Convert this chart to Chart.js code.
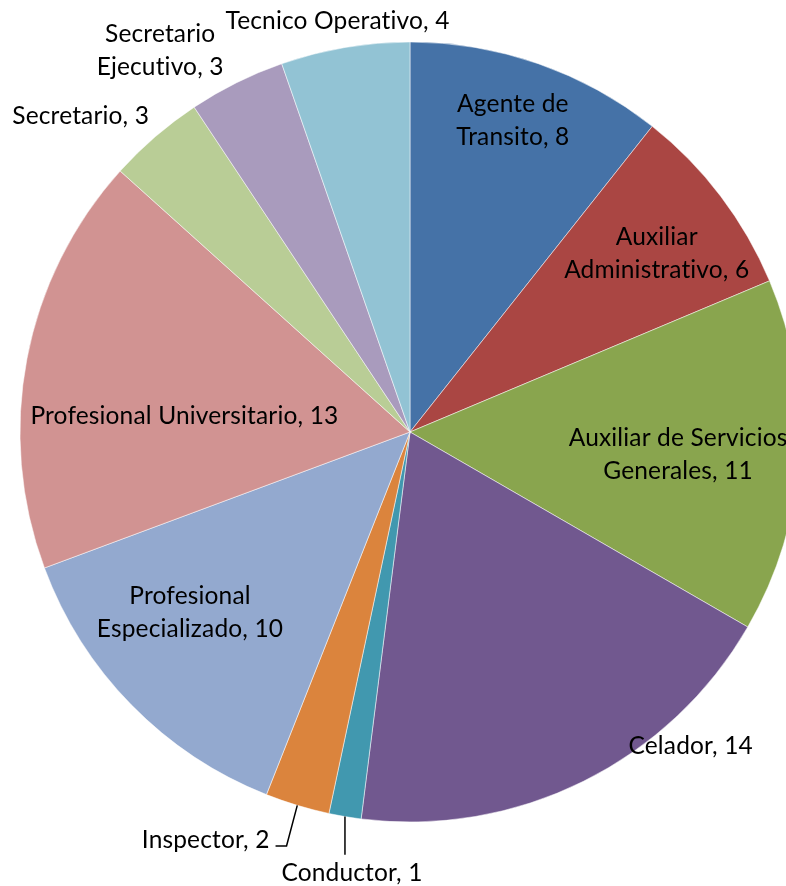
<!DOCTYPE html>
<html lang="es">
<head>
  <meta charset="UTF-8">
  <title>Cargos</title>
  <style>
    html, body { margin:0; padding:0; background:#fff; overflow:hidden; }
    #wrap { width:820px; height:886px; }
  </style>
</head>
<body>
<div id="wrap"><canvas id="pie" width="820" height="886"></canvas></div>
<script src="https://cdn.jsdelivr.net/npm/chart.js"></script>
<script>
// datos (\n = salto de linea de la etiqueta)
const categories = ['Agente de\nTransito', 'Auxiliar\nAdministrativo', 'Auxiliar de Servicios\nGenerales', 'Celador',
  'Conductor', 'Inspector', 'Profesional\nEspecializado', 'Profesional Universitario', 'Secretario',
  'Secretario\nEjecutivo', 'Tecnico Operativo'];
const values = [8, 6, 11, 14, 1, 2, 10, 13, 3, 3, 4];
const colors = ['#4572A7', '#AA4643', '#89A54E', '#71588F', '#4198AF', '#DB843D',
  '#93A9CF', '#D19392', '#B9CD96', '#A99BBD', '#92C3D4'];

// ubicacion de etiquetas: giro (grados) respecto al centro del sector y radio relativo
const labelShift = [-0.9, 1.4, 1.3, -15.4, -2.1, 9.8, 5.0, -6.7, -5.4, -6.8, -0.4];
const labelRadius = [0.84, 0.78, 0.69, 1.08, 1.14, 1.17, 0.73, 0.58, 1.17, 1.17, 1.07];
const leaders = { 4: 'down', 5: 'elbow' };

const FONT = '24.5px Lato, "Liberation Sans", sans-serif';
const LINE_H = 33;

const pieLabels = {
  id: 'pieLabels',
  afterDatasetsDraw(chart) {
    const ctx = chart.ctx;
    const arcs = chart.getDatasetMeta(0).data;
    ctx.save();
    ctx.font = FONT;
    if ('letterSpacing' in ctx) ctx.letterSpacing = '0.15px'; // sin ligaduras "ti"
    ctx.fillStyle = '#000';
    ctx.textAlign = 'center';
    ctx.textBaseline = 'middle';
    arcs.forEach((arc, i) => {
      const mid = (arc.startAngle + arc.endAngle) / 2;
      const a = mid + labelShift[i] * Math.PI / 180;
      const r = arc.outerRadius * labelRadius[i];
      const x = arc.x + Math.cos(a) * r;
      const y = arc.y + Math.sin(a) * r;
      const lines = (categories[i] + ', ' + values[i]).split('\n');
      const y0 = y - (lines.length - 1) * LINE_H / 2;
      lines.forEach((t, k) => ctx.fillText(t, x, y0 + k * LINE_H));

      if (leaders[i]) {
        const ex = arc.x + Math.cos(mid) * arc.outerRadius;
        const ey = arc.y + Math.sin(mid) * arc.outerRadius;
        ctx.strokeStyle = '#000';
        ctx.lineWidth = 1.5;
        ctx.beginPath();
        ctx.moveTo(ex, ey);
        if (leaders[i] === 'down') {
          ctx.lineTo(ex, y - 18);
        } else {
          const right = x + ctx.measureText(lines[0]).width / 2;
          ctx.lineTo(right + 17, y + 6);
          ctx.lineTo(right + 6, y + 6);
        }
        ctx.stroke();
      }
    });
    ctx.restore();
  }
};

new Chart(document.getElementById('pie'), {
  type: 'pie',
  data: {
    labels: categories.map(c => c.replace('\n', ' ')),
    datasets: [{
      data: values,
      backgroundColor: colors,
      borderColor: 'rgba(255,255,255,0.5)',
      borderWidth: 1
    }]
  },
  options: {
    responsive: false,
    animation: false,
    radius: 390,
    layout: { padding: { left: 20, right: 20, top: 42, bottom: 64 } },
    plugins: { legend: { display: false }, tooltip: { enabled: false } }
  },
  plugins: [pieLabels]
});
</script>
</body>
</html>
